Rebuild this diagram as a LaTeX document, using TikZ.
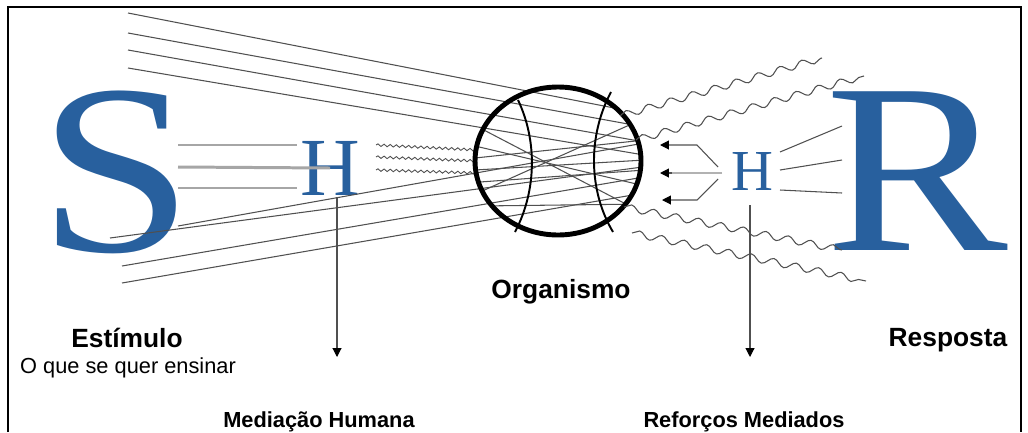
\documentclass[tikz,border=0pt]{standalone}
\usepackage{fontspec}
\setmainfont{Liberation Serif}
\setsansfont{Liberation Sans}
\usepackage{tikz}
\usetikzlibrary{calc, positioning, arrows.meta, decorations.pathmorphing}
\definecolor{letterBlue}{RGB}{40, 96, 158}
\definecolor{rayGray}{RGB}{80, 80, 80}

\begin{document}
\begin{tikzpicture}[x=0.2mm, y=-0.2mm,
  bigletter/.style={inner sep=0pt, text=letterBlue, font=\fontsize{138}{138}\selectfont},
  hletter/.style={inner sep=0pt, text=letterBlue},
  ray/.style={rayGray, line width=0.6pt},
  barline/.style={gray!70, line width=1.7pt},
  wave/.style={rayGray, line width=0.6pt, decorate,
    decoration={snake, amplitude=2pt, segment length=13pt}},
  ripple/.style={rayGray, line width=0.5pt, decorate,
    decoration={snake, amplitude=0.7pt, segment length=3.5pt}},
  label/.style={font=\sffamily\bfseries\fontsize{15}{17}\selectfont},
  sublabel/.style={font=\sffamily\bfseries\fontsize{12.4}{14}\selectfont},
  tip/.style={-{Triangle[length=5pt, width=5pt, color=black]}}
]
  \useasboundingbox (0,0) rectangle (1028,432);
  \fill[white] (0,0) rectangle (1028,432);
  \draw[line width=1.2pt] (8,432) -- (8,7) -- (1021,7) -- (1021,432);

  % Organismo: ellipse centre and radii
  \def\cx{558}
  \def\cy{161}
  \def\rx{83}
  \def\ry{74}

  % Big letters
  \node[bigletter] (S) at (116,172) {\scalebox{1.15}[1]{S}};
  \node[bigletter] (R) at (917,171) {\scalebox{1.13}[1]{R}};
  \node[hletter, font=\fontsize{47}{47}\selectfont] (hl) at (330,168) {H};
  \node[hletter, font=\fontsize{33}{33}\selectfont] (hr) at (752,172) {H};

  % Rays from S into the organism (left part + inside the ellipse)
  \begin{scope}
    \clip (0,0) -- (\cx,0) -- (\cx,\cy-\ry)
      arc[start angle=-90, end angle=90, x radius=\rx, y radius=\ry]
      -- (\cx,432) -- (0,432) -- cycle;
    \draw[ray] (128,13) -- (650,115);
    \draw[ray] (128,33) -- (650,128);
    \draw[ray] (128,50) -- (650,143);
    \draw[ray] (128,68) -- (650,156);
    \draw[ray] (178,226) -- (650,142);
    \draw[ray] (110,238) -- (650,166);
    \draw[ray] (122,266) -- (650,176);
    \draw[ray] (122,283) -- (650,192);
  \end{scope}

  % Crossing lines inside the organism
  \begin{scope}
    \clip (\cx,\cy) ellipse[x radius=\rx, y radius=\ry];
    \draw[ray] (475,146) -- (645,186);
    \draw[ray] (475,158) -- (645,140);
    \draw[ray] (475,170) -- (645,160);
    \draw[ray] (480,192) -- (645,118);
    \draw[ray] (480,206) -- (645,204);
    \draw[ray] (480,128) -- (645,214);
    \draw[ray] (480,182) -- (645,170);
  \end{scope}

  % S -- H bars
  \draw[barline] (178,145) -- (297,145);
  \draw[barline] (178,167) -- (hl.center);
  \draw[barline] (178,188) -- (297,188);

  % H -- organism ripples
  \draw[ripple] (376,145) -- (478,150);
  \draw[ripple] (376,157) -- (478,161);
  \draw[ripple] (376,170) -- (478,173);

  % Organismo
  \draw[line width=2.8pt] (\cx,\cy) ellipse[x radius=\rx, y radius=\ry];
  \draw[line width=1.1pt] (518,100) .. controls (537,140) and (537,190) .. (515,232);
  \draw[line width=1.1pt] (611,92) .. controls (588,135) and (588,190) .. (613,232);
  \node[label] (org) at (561,292) {Organismo};

  % Responses leaving the organism
  \draw[wave] (620,116) -- (822,58);
  \draw[wave] (636,140) -- (864,76);
  \draw[wave] (624,207) -- (842,250);
  \draw[wave] (632,233) -- (866,281);

  % Mediated reinforcement back to the organism
  \draw[ray, tip] (718,167) -- (697,145) -- (660,145);
  \draw[barline, gray!60] (722,173) -- (668,173);
  \draw[ray, tip] (672,173) -- (660,173);
  \draw[ray, tip] (718,179) -- (697,200) -- (662,200);

  % H -- R
  \draw[ray] (780,152) -- (842,126);
  \draw[ray] (780,170) -- (842,160);
  \draw[ray] (780,190) -- (842,193);

  % Captions
  \node[label] (est) at (127,338) {Estímulo};
  \node[font=\sffamily\fontsize{12.4}{14}\selectfont, anchor=west] (ens) at (14,368) {O que se quer ensinar};
  \node[label] (resp) at (948,340) {Resposta};
  \node[sublabel] (medh) at (319,422) {Mediação Humana};
  \node[sublabel] (refm) at (744,422) {Reforços Mediados};
  \coordinate (medtop) at (337,197);
  \coordinate (reftop) at (750,205);
  \draw[ray, tip] (medtop) -- (337,357);
  \draw[ray, tip] (reftop) -- (750,357);
\end{tikzpicture}
\end{document}
